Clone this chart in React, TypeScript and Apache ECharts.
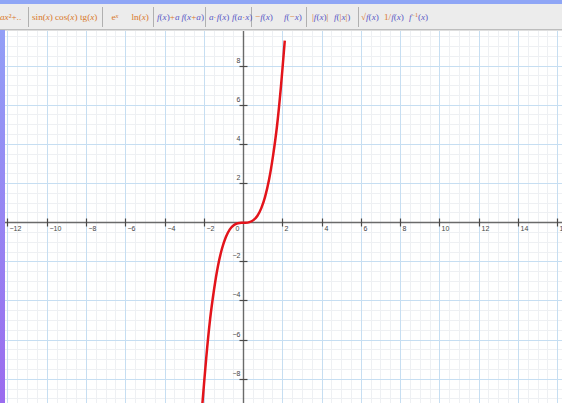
import React, { useEffect, useRef } from 'react';
import * as echarts from 'echarts';

// visible window of the plane
const xMin = -12.15;
const xMax = 16.22;
const yMin = -9.21;
const yMax = 9.79;

// tick values
const xMajorTicks = [-12, -10, -8, -6, -4, -2, 0, 2, 4, 6, 8, 10, 12, 14, 16];
const yMajorTicks = [-8, -6, -4, -2, 0, 2, 4, 6, 8];
const xTickLabels = [-12, -10, -8, -6, -4, -2, 2, 4, 6, 8, 10, 12, 14, 16];
const yTickLabels = [-8, -6, -4, -2, 2, 4, 6, 8];
const minorStep = 0.5;

// red curve, points
const curveX = [-2.1, -1.9, -1.7, -1.5, -1.3, -1.1, -0.9, -0.7, -0.5, -0.3, -0.1, 0, 0.1, 0.3, 0.5, 0.7, 0.9, 1.1, 1.3, 1.5, 1.7, 1.9, 2.1];
const curveY = [-9.3, -6.9, -4.9, -3.4, -2.2, -1.33, -0.73, -0.34, -0.13, -0.03, 0, 0, 0, 0.03, 0.13, 0.34, 0.73, 1.33, 2.2, 3.4, 4.9, 6.9, 9.3];

// toolbar buttons: [left, segments]
const ORANGE = '#d9782a';
const PURPLE = '#5a5ac6';
type Seg = [string, string];
const toolbarButtons: [number, Seg[]][] = [
  [0, [['o', 'ax'], ['O', '²+..']]],
  [32, [['O', 'sin('], ['o', 'x'], ['O', ')']]],
  [55, [['O', 'cos('], ['o', 'x'], ['O', ')']]],
  [80, [['O', 'tg('], ['o', 'x'], ['O', ')']]],
  [111.5, [['O', 'e'], ['s', 'x']]],
  [131.5, [['O', 'ln('], ['o', 'x'], ['O', ')']]],
  [157, [['p', 'f'], ['P', '('], ['p', 'x'], ['P', ')'], ['O', '+'], ['p', 'a']]],
  [181.5, [['p', 'f'], ['P', '('], ['p', 'x'], ['O', '+'], ['p', 'a'], ['P', ')']]],
  [209, [['p', 'a'], ['O', '·'], ['p', 'f'], ['P', '('], ['p', 'x'], ['P', ')']]],
  [232, [['p', 'f'], ['P', '('], ['p', 'a'], ['O', '·'], ['p', 'x'], ['P', ')']]],
  [255, [['O', '−'], ['p', 'f'], ['P', '('], ['p', 'x'], ['P', ')']]],
  [284, [['p', 'f'], ['P', '('], ['O', '−'], ['p', 'x'], ['P', ')']]],
  [312, [['O', '|'], ['p', 'f'], ['P', '('], ['p', 'x'], ['P', ')'], ['O', '|']]],
  [334, [['p', 'f'], ['P', '('], ['O', '|'], ['p', 'x'], ['O', '|'], ['P', ')']]],
  [361, [['O', '√'], ['p', 'f'], ['P', '('], ['p', 'x'], ['P', ')']]],
  [384, [['O', '1/'], ['p', 'f'], ['P', '('], ['p', 'x'], ['P', ')']]],
  [409, [['p', 'f'], ['t', '−1'], ['P', '('], ['p', 'x'], ['P', ')']]],
];
const toolbarSeparators = [28.5, 102.5, 153.5, 205.5, 251.5, 306.5, 358.5];

const fmt = (v: number) => (v < 0 ? '−' + Math.abs(v) : String(v));

export default function App() {
  const ref = useRef<HTMLDivElement>(null);

  useEffect(() => {
    if (!ref.current) return;
    const chart = echarts.init(ref.current, undefined, { renderer: 'svg' });

    const serif = '"Liberation Serif", "DejaVu Serif", serif';
    const FS = 9.2;
    const rich: any = {
      o: { fill: ORANGE, fontStyle: 'italic', fontFamily: serif, fontSize: FS },
      O: { fill: ORANGE, fontFamily: serif, fontSize: FS },
      p: { fill: PURPLE, fontStyle: 'italic', fontFamily: serif, fontSize: FS },
      P: { fill: PURPLE, fontFamily: serif, fontSize: FS },
      s: { fill: ORANGE, fontStyle: 'italic', fontFamily: serif, fontSize: 6.5, verticalAlign: 'top', lineHeight: 11 },
      t: { fill: ORANGE, fontFamily: serif, fontSize: 6, verticalAlign: 'top', lineHeight: 11 },
    };

    const graphics: any[] = [
      { type: 'rect', left: 0, top: 0, z: 10, shape: { width: 562, height: 4 }, style: { fill: '#8fa6f6' } },
      { type: 'rect', left: 0, top: 4, z: 10, shape: { width: 562, height: 25 }, style: { fill: '#ececec' } },
      { type: 'rect', left: 0, top: 29, z: 10, shape: { width: 562, height: 1.5 }, style: { fill: '#bdbdbd' } },
      {
        type: 'rect', left: 0, top: 30, z: 10, shape: { width: 5, height: 373 },
        style: {
          fill: new echarts.graphic.LinearGradient(0, 0, 0, 1, [
            { offset: 0, color: '#929ff7' },
            { offset: 1, color: '#9a6cef' },
          ]),
        },
      },
      ...toolbarSeparators.map((sx) => ({
        type: 'line', z: 11,
        shape: { x1: sx, y1: 7, x2: sx, y2: 27 },
        style: { stroke: '#b0b0b0', lineWidth: 1 },
      })),
      ...toolbarButtons.map(([bx, segs]) => ({
        type: 'text', z: 11, x: bx, y: 17,
        style: {
          text: segs.map(([k, t]) => `{${k}|${t}}`).join(''),
          rich,
          verticalAlign: 'middle',
          align: 'left',
        },
      })),
    ];

    const minorX: number[] = [];
    for (let v = Math.ceil(xMin / minorStep) * minorStep; v <= xMax; v += minorStep) {
      if (!xMajorTicks.includes(v)) minorX.push(v);
    }
    const minorY: number[] = [];
    for (let v = Math.ceil(yMin / minorStep) * minorStep; v <= yMax; v += minorStep) {
      if (!yMajorTicks.includes(v)) minorY.push(v);
    }

    const snap = (v: number) => Math.round(v - 0.5) + 0.5;
    const labelFont = 'Arial, "Liberation Sans", sans-serif';
    const labelStyle = (text: string, align: string, va: string) => ({
      text, align, verticalAlign: va, fill: '#444', fontSize: 7, fontFamily: labelFont,
    });

    const option: any = {
      animation: false,
      backgroundColor: '#ffffff',
      grid: { left: 5, right: 0, top: 31, bottom: 0, outerBoundsMode: 'none', containLabel: false },
      xAxis: {
        type: 'value', min: xMin, max: xMax,
        axisLine: { show: false },
        axisTick: { show: false },
        splitLine: { show: false },
        axisLabel: { show: false },
      },
      yAxis: {
        type: 'value', min: yMin, max: yMax,
        axisLine: { show: false },
        axisTick: { show: false },
        splitLine: { show: false },
        axisLabel: { show: false },
      },
      graphic: graphics,
      series: [
        {
          type: 'custom',
          z: 1,
          silent: true,
          clip: false,
          data: [[0, 0]],
          renderItem: (params: any, api: any) => {
            const cs = params.coordSys;
            const o = api.coord([0, 0]);
            const ox = snap(o[0]);
            const oy = snap(o[1]);
            const children: any[] = [];
            const vLine = (v: number, stroke: string, w: number) => {
              const px = snap(api.coord([v, 0])[0]);
              children.push({ type: 'line', shape: { x1: px, y1: cs.y, x2: px, y2: cs.y + cs.height }, style: { stroke, lineWidth: w } });
            };
            const hLine = (v: number, stroke: string, w: number) => {
              const py = snap(api.coord([0, v])[1]);
              children.push({ type: 'line', shape: { x1: cs.x, y1: py, x2: cs.x + cs.width, y2: py }, style: { stroke, lineWidth: w } });
            };
            minorX.forEach((v) => vLine(v, '#eef0f3', 1));
            minorY.forEach((v) => hLine(v, '#eef0f3', 1));
            xMajorTicks.forEach((v) => vLine(v, '#c6def2', 1));
            yMajorTicks.forEach((v) => hLine(v, '#c6def2', 1));
            // axes
            children.push({ type: 'line', shape: { x1: cs.x, y1: oy, x2: cs.x + cs.width, y2: oy }, style: { stroke: '#6a6a6a', lineWidth: 1.4 } });
            children.push({ type: 'line', shape: { x1: ox, y1: cs.y, x2: ox, y2: cs.y + cs.height }, style: { stroke: '#6a6a6a', lineWidth: 1.4 } });
            xTickLabels.forEach((v) => {
              const px = snap(api.coord([v, 0])[0]);
              children.push({ type: 'line', shape: { x1: px, y1: oy - 4, x2: px, y2: oy + 4 }, style: { stroke: '#4a4a4a', lineWidth: 1.2 } });
              children.push({ type: 'text', x: px + 2, y: oy + 2.5, style: labelStyle(fmt(v), 'left', 'top') });
            });
            yTickLabels.forEach((v) => {
              const py = snap(api.coord([0, v])[1]);
              children.push({ type: 'line', shape: { x1: ox - 4, y1: py, x2: ox + 4, y2: py }, style: { stroke: '#4a4a4a', lineWidth: 1.2 } });
              children.push({ type: 'text', x: ox - 3, y: py - 3, style: labelStyle(fmt(v), 'right', 'bottom') });
            });
            children.push({ type: 'text', x: ox - 4, y: oy + 2.5, style: labelStyle('0', 'right', 'top') });
            return { type: 'group', children };
          },
        },
        {
          type: 'line',
          z: 3,
          data: curveX.map((x, i) => [x, curveY[i]]),
          smooth: 0.3,
          showSymbol: false,
          symbol: 'none',
          lineStyle: { color: '#e3141b', width: 2.5 },
          clip: true,
        },
      ],
    };

    chart.setOption(option);
    return () => chart.dispose();
  }, []);

  return (
    <div
      ref={ref}
      style={{ position: 'fixed', left: 0, top: 0, width: 562, height: 403 }}
    />
  );
}
